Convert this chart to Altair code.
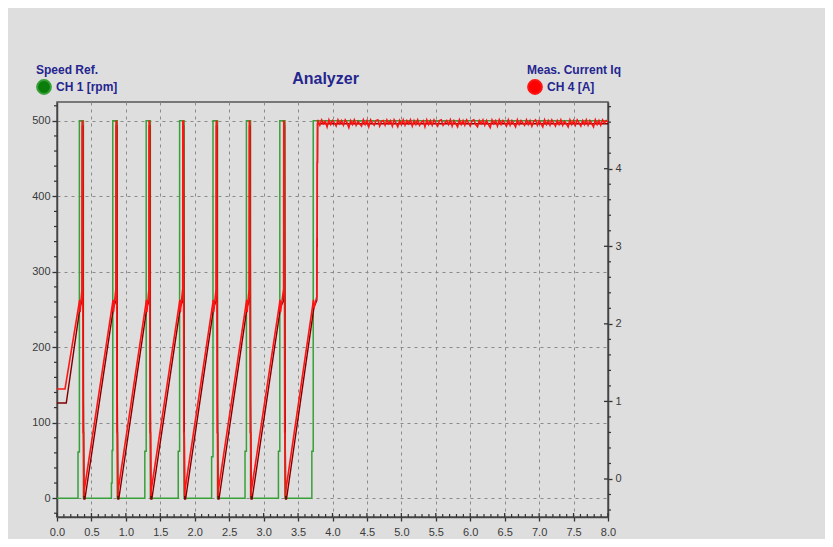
import altair as alt
import pandas as pd

# ---------------- data ----------------
X_TICKS = [0.0, 0.5, 1.0, 1.5, 2.0, 2.5, 3.0, 3.5, 4.0, 4.5, 5.0, 5.5, 6.0, 6.5, 7.0, 7.5, 8.0]
LEFT_TICKS = [0, 100, 200, 300, 400, 500]
RIGHT_TICKS = [0, 1, 2, 3, 4]

# CH1 Speed Ref. [rpm]  (left axis)
SPEED_T = [0.000, 0.305, 0.305, 0.325, 0.325, 0.383, 0.383,
           0.790, 0.790, 0.800, 0.800, 0.810, 0.810, 0.875, 0.875,
           1.275, 1.275, 1.295, 1.295, 1.355, 1.355,
           1.760, 1.760, 1.780, 1.780, 1.845, 1.845,
           2.245, 2.245, 2.265, 2.265, 2.330, 2.330,
           2.730, 2.730, 2.750, 2.750, 2.810, 2.810,
           3.215, 3.215, 3.235, 3.235, 3.310, 3.310,
           3.700, 3.700, 3.720, 3.720, 8.000]
SPEED_V = [0, 0, 61, 61, 500, 500, 0,
           0, 20, 20, 63, 63, 500, 500, 0,
           0, 62, 62, 500, 500, 0,
           0, 62, 62, 500, 500, 0,
           0, 55, 55, 500, 500, 0,
           0, 62, 62, 500, 500, 0,
           0, 62, 62, 500, 500, 0,
           0, 62, 62, 500, 500]

# CH4 Meas. Current Iq [A]  (right axis)
IQ_T = [0.000, 0.116, 0.329, 0.335, 0.363, 0.365, 0.371, 0.373, 0.379, 0.385, 0.391, 0.395,
        0.814, 0.820, 0.855, 0.857, 0.863, 0.865, 0.871, 0.877, 0.883, 0.887,
        1.299, 1.305, 1.335, 1.337, 1.343, 1.345, 1.351, 1.357, 1.363, 1.367,
        1.784, 1.790, 1.825, 1.827, 1.833, 1.835, 1.841, 1.847, 1.853, 1.857,
        2.269, 2.275, 2.310, 2.312, 2.318, 2.320, 2.326, 2.332, 2.338, 2.342,
        2.754, 2.760, 2.790, 2.792, 2.798, 2.800, 2.806, 2.812, 2.818, 2.822,
        3.239, 3.245, 3.290, 3.292, 3.298, 3.300, 3.306, 3.312, 3.318, 3.322,
        3.724, 3.730, 3.772, 3.774, 3.777, 3.778, 3.783, 3.786]
IQ_V = [1.16, 1.16, 2.31, 2.15, 2.45, 4.62, 3.70, 4.62, 0.60, 0.60, -0.22, -0.15,
        2.31, 2.15, 2.45, 4.62, 3.70, 4.62, 0.60, 0.60, -0.22, -0.15,
        2.31, 2.15, 2.45, 4.62, 3.70, 4.62, 0.60, 0.60, -0.22, -0.15,
        2.31, 2.15, 2.45, 4.62, 3.70, 4.62, 0.60, 0.60, -0.22, -0.15,
        2.31, 2.15, 2.45, 4.62, 3.70, 4.62, 0.60, 0.60, -0.22, -0.15,
        2.31, 2.15, 2.45, 4.62, 3.70, 4.62, 0.60, 0.60, -0.22, -0.15,
        2.31, 2.15, 2.45, 4.62, 3.70, 4.62, 0.60, 0.60, -0.22, -0.15,
        2.31, 2.20, 2.35, 3.10, 3.10, 4.08, 4.08, 4.62]

# Meas. Current Iq after the last step: readings from 3.79 s to 8.0 s (noisy plateau)
NOISE_START, NOISE_END = 3.79, 8.0
NOISE_V = [4.62, 4.56, 4.63, 4.58, 4.61, 4.54, 4.63, 4.57, 4.62, 4.59,
           4.55, 4.63, 4.58, 4.62, 4.56, 4.63, 4.59, 4.53, 4.62, 4.57,
           4.63, 4.56, 4.61, 4.58, 4.55, 4.63, 4.57, 4.62, 4.54, 4.63,
           4.59, 4.56, 4.62, 4.63, 4.55, 4.61, 4.62, 4.56, 4.63, 4.58,
           4.62, 4.55, 4.63, 4.59, 4.54, 4.62, 4.57, 4.63, 4.56, 4.62,
           4.58, 4.63, 4.55, 4.62, 4.57, 4.63, 4.56, 4.60, 4.62, 4.54,
           4.63, 4.57, 4.62, 4.56, 4.63, 4.59, 4.55, 4.62, 4.63, 4.56,
           4.59, 4.62, 4.57, 4.63, 4.55, 4.62, 4.58, 4.54, 4.63, 4.57,
           4.62, 4.56, 4.63, 4.59, 4.55, 4.62, 4.63, 4.57, 4.54, 4.62,
           4.58, 4.63, 4.56, 4.62, 4.57, 4.53, 4.63, 4.58, 4.62, 4.55,
           4.63, 4.57, 4.62, 4.59, 4.55, 4.63, 4.56, 4.62, 4.58, 4.54,
           4.63, 4.57, 4.62, 4.59, 4.56, 4.63, 4.57, 4.62, 4.55, 4.61,
           4.63, 4.56, 4.62, 4.58, 4.54, 4.63, 4.57, 4.62, 4.56, 4.63,
           4.59, 4.55, 4.62, 4.57, 4.63, 4.56, 4.61, 4.58, 4.54, 4.63,
           4.57, 4.62, 4.56, 4.63, 4.59, 4.55, 4.62, 4.57, 4.63, 4.56,
           4.62, 4.58, 4.54, 4.63, 4.57, 4.62, 4.56, 4.63, 4.59, 4.62,
           4.60]

# CH3 Current Iq Ref. [A]
IQREF_T = [0.000, 0.135, 0.335, 0.366, 0.368, 0.376, 0.384, 0.392, 0.405,
           0.822, 0.858, 0.860, 0.868, 0.876, 0.884, 0.897,
           1.307, 1.338, 1.340, 1.348, 1.356, 1.364, 1.377,
           1.792, 1.828, 1.830, 1.838, 1.846, 1.854, 1.867,
           2.277, 2.313, 2.315, 2.323, 2.331, 2.339, 2.352,
           2.762, 2.793, 2.795, 2.803, 2.811, 2.819, 2.832,
           3.247, 3.293, 3.295, 3.303, 3.311, 3.319, 3.332,
           3.732, 3.772, 3.774, 3.779, 3.781, 8.000]
IQREF_V = [0.98, 0.98, 2.22, 2.30, 4.55, 4.55, 1.00, -0.26, -0.26,
           2.22, 2.30, 4.55, 4.55, 1.00, -0.26, -0.26,
           2.22, 2.30, 4.55, 4.55, 1.00, -0.26, -0.26,
           2.22, 2.30, 4.55, 4.55, 1.00, -0.26, -0.26,
           2.22, 2.30, 4.55, 4.55, 1.00, -0.26, -0.26,
           2.22, 2.30, 4.55, 4.55, 1.00, -0.26, -0.26,
           2.22, 2.30, 4.55, 4.55, 1.00, -0.26, -0.26,
           2.22, 2.30, 3.00, 3.00, 4.58, 4.58]

# ---------------- styling ----------------
W, H = 551, 415
BG = "#dedede"
NAVY = "#25258f"
GREEN = "#38a038"
RED = "#ff1414"
DARKRED = "#800000"
FONT = "Liberation Sans"

n = len(NOISE_V)
noise_t = [NOISE_START + i * (NOISE_END - NOISE_START) / (n - 1) for i in range(n)]

speed_df = pd.DataFrame({"t": SPEED_T, "v": SPEED_V, "s": "CH 1 [rpm]"})
speed_df["i"] = range(len(speed_df))
iq_df = pd.DataFrame({"t": IQ_T + noise_t, "v": IQ_V + NOISE_V, "s": "CH 4 [A]"})
iq_df["i"] = range(len(iq_df))
iqref_df = pd.DataFrame({"t": IQREF_T, "v": IQREF_V, "s": "CH 3 [A]"})
iqref_df["i"] = range(len(iqref_df))

x_minor = pd.DataFrame({"t": [k / 10 for k in range(1, 80) if k % 5 != 0]})
x_major = pd.DataFrame({"t": X_TICKS})
l_minor = pd.DataFrame({"v": [k for k in range(-20, 521, 20) if k % 100 != 0]})
r_minor = pd.DataFrame({"v": [k / 5 for k in range(-2, 25) if k % 5 != 0]})
r_major = pd.DataFrame({"v": RIGHT_TICKS})

xscale = alt.Scale(domain=[0, 8], nice=False, zero=False)
lscale = alt.Scale(domain=[-25, 525], nice=False, zero=False)
rscale = alt.Scale(domain=[-0.49, 4.86], nice=False, zero=False)

x_axis = alt.Axis(values=X_TICKS, format=".1f", grid=True, gridDash=[3, 4], gridColor="#8a8a8a",
                  gridWidth=1, tickSize=4, tickColor="#333", tickWidth=1.3, domainColor="#444",
                  domainWidth=1.5, labelColor="#3a3a3a", labelFontSize=11, labelPadding=5,
                  labelFont=FONT, labelFlush=False, title="t [s]", titleColor="#3030ff",
                  titleFont=FONT, titleFontSize=14, titleFontWeight="bold", titlePadding=2,
                  titleX=270)
l_axis = alt.Axis(values=LEFT_TICKS, orient="left", grid=True, gridDash=[3, 4], gridColor="#8a8a8a",
                  gridWidth=1, tickSize=5, tickColor="#333", tickWidth=1.3, domainColor="#444",
                  domainWidth=1.5, labelColor="#3a3a3a", labelFontSize=11, labelPadding=2,
                  labelFont=FONT, title="Analyzer", titleAngle=0, titleX=268, titleY=-24,
                  titleAlign="center", titleBaseline="middle", titleFont=FONT, titleFontSize=16,
                  titleFontWeight="bold", titleColor=NAVY)
r_axis = alt.Axis(values=RIGHT_TICKS, orient="right", grid=False, tickSize=4, tickColor="#333",
                  tickWidth=1.3, domainColor="#444", domainWidth=1.5, labelColor="#3a3a3a",
                  labelFontSize=11, labelPadding=3, labelFont=FONT, title=None)


def legend(title, x, fill, values=None):
    kw = dict(title=title, orient="none", legendX=x, legendY=-37, padding=0,
              titleFont=FONT, titleFontSize=12, titleFontWeight="bold", titleColor=NAVY,
              titlePadding=2, labelFont=FONT, labelFontSize=12, labelFontWeight="bold",
              labelColor=NAVY, labelOffset=4, symbolType="circle", symbolSize=190,
              symbolFillColor=fill, symbolStrokeColor="black", symbolStrokeWidth=2)
    if values is not None:
        kw["values"] = values
    return alt.Legend(**kw)


green = alt.Chart(speed_df).mark_line(strokeWidth=1.5, clip=True).encode(
    x=alt.X("t:Q", scale=xscale, axis=x_axis),
    y=alt.Y("v:Q", scale=lscale, axis=l_axis),
    order="i:Q",
    color=alt.Color("s:N", scale=alt.Scale(domain=["CH 1 [rpm]"], range=[GREEN]),
                    legend=legend("Speed Ref.", -21, "#0b7d0b")),
)
lminor_rule = alt.Chart(l_minor).mark_rule(color="#333", strokeWidth=1.2).encode(
    y=alt.Y("v:Q", scale=lscale, axis=l_axis), x=alt.value(-3), x2=alt.value(0))
xminor_rule = alt.Chart(x_minor).mark_rule(color="#333", strokeWidth=1.2).encode(
    x=alt.X("t:Q", scale=xscale, axis=x_axis), y=alt.value(H - 3), y2=alt.value(H))
xmajor_rule = alt.Chart(x_major).mark_rule(color="#333", strokeWidth=1.3).encode(
    x=alt.X("t:Q", scale=xscale, axis=x_axis), y=alt.value(H - 4), y2=alt.value(H))

left = alt.layer(green, lminor_rule, xminor_rule, xmajor_rule)

red_cs = alt.Scale(domain=["CH 4 [A]", "CH 3 [A]"], range=[RED, DARKRED])
red_leg = legend("Meas. Current Iq", 470, "#ff0000", values=["CH 4 [A]"])

dark = alt.Chart(iqref_df).mark_line(strokeWidth=1.4, clip=True).encode(
    x=alt.X("t:Q", scale=xscale, axis=x_axis),
    y=alt.Y("v:Q", scale=rscale, axis=r_axis),
    order="i:Q",
    color=alt.Color("s:N", scale=red_cs, legend=red_leg),
)
red = alt.Chart(iq_df).mark_line(strokeWidth=1.6, clip=True).encode(
    x=alt.X("t:Q", scale=xscale, axis=x_axis),
    y=alt.Y("v:Q", scale=rscale, axis=r_axis),
    order="i:Q",
    color=alt.Color("s:N", scale=red_cs, legend=red_leg),
)
rminor_rule = alt.Chart(r_minor).mark_rule(color="#333", strokeWidth=1.2).encode(
    y=alt.Y("v:Q", scale=rscale, axis=r_axis), x=alt.value(W), x2=alt.value(W + 3))
rmajor_rule = alt.Chart(r_major).mark_rule(color="#333", strokeWidth=1.3).encode(
    y=alt.Y("v:Q", scale=rscale, axis=r_axis), x=alt.value(W - 4), x2=alt.value(W))

right = alt.layer(dark, red, rminor_rule, rmajor_rule)

chart = (
    alt.layer(left, right)
    .resolve_scale(y="independent", color="independent")
    .resolve_legend(color="independent")
    .properties(width=W, height=H, background=BG,
                padding={"left": 49, "top": 94, "right": 217, "bottom": 22},
                autosize=alt.AutoSizeParams(type="none"))
    .configure_view(stroke="#555", strokeWidth=1.5)
)

chart.save("out.html", embed_options={"renderer": "svg", "actions": False})
